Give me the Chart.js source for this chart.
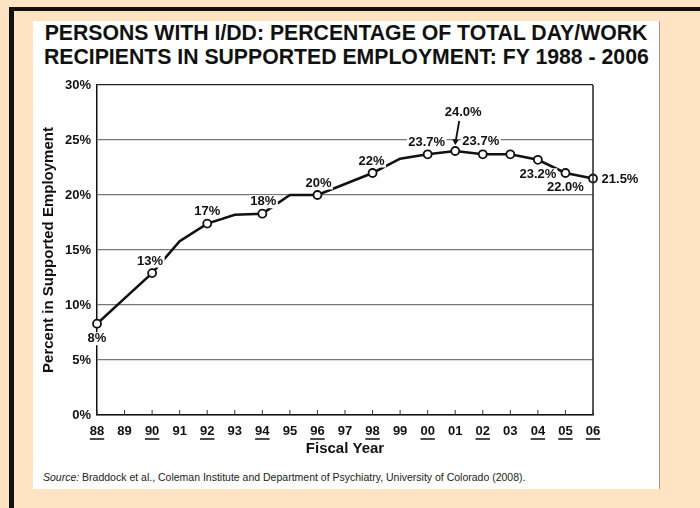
<!DOCTYPE html>
<html>
<head>
<meta charset="utf-8">
<script src="https://cdn.jsdelivr.net/npm/chart.js@4.4.1/dist/chart.umd.min.js"></script>
<style>
  body { margin: 0; width: 700px; height: 508px; background: #FFE4C4; position: relative; overflow: hidden; font-family: "Liberation Sans", Arial, sans-serif; }
  #frameLeft { position: absolute; left: 9px; top: 7px; width: 5px; height: 501px; background: #111; }
  #frameTop { position: absolute; left: 9px; top: 7px; width: 691px; height: 4px; background: #111; }
  #panel { position: absolute; left: 33px; top: 21px; width: 626px; height: 468px; background: #fff; border-right: 1px solid #999; }
  #title { position: absolute; left: 33px; top: 21px; width: 626px; text-align: center; font-weight: bold; font-size: 22px; line-height: 23.5px; color: #111; white-space: nowrap; transform: scaleX(0.965); transform-origin: 50% 0; }
  #source { position: absolute; left: 43px; top: 471px; font-size: 10.5px; color: #222; white-space: nowrap; }
  canvas { position: absolute; left: 0; top: 0; }
</style>
</head>
<body>
<div id="frameLeft"></div>
<div id="frameTop"></div>
<div id="panel"></div>
<div id="title">PERSONS WITH I/DD: PERCENTAGE OF TOTAL DAY/WORK<br>RECIPIENTS IN SUPPORTED EMPLOYMENT: FY 1988 - 2006</div>
<div id="source"><i>Source:</i> Braddock et al., Coleman Institute and Department of Psychiatry, University of Colorado (2008).</div>
<canvas id="chart" width="700" height="508"></canvas>
<script>
// Data
const years = ['88', '89', '90', '91', '92', '93', '94', '95', '96', '97', '98', '99', '00', '01', '02', '03', '04', '05', '06'];
const pctSupported = [8.3, 10.6, 12.9, 15.8, 17.4, 18.2, 18.3, 20.0, 20.0, 21.0, 22.0, 23.3, 23.7, 24.0, 23.7, 23.7, 23.2, 22.0, 21.5];
const pointLabels = ['8%', '', '13%', '', '17%', '', '18%', '', '20%', '', '22%', '', '23.7%', '24.0%', '23.7%', '', '23.2%', '22.0%', '21.5%'];
const markedYears = ['88', '90', '92', '94', '96', '98', '00', '01', '02', '03', '04', '05', '06'];
const underlinedYears = ['88', '90', '92', '94', '96', '98', '00', '02', '04', '05', '06'];
const yTicks = [0, 5, 10, 15, 20, 25, 30];

const FONT = '"Liberation Sans", Arial, sans-serif';

// where each value label sits relative to its point
const labelOffsets = {
    '88': [0, 15], '90': [-2, -12], '92': [0, -12], '94': [1, -12], '96': [1, -12],
    '98': [-1, -12], '00': [-1, -12], '01': [8, -39], '02': [-2, -13],
    '04': [0, 15], '05': [0, 14], '06': [27, 1]
};

// Extra drawing: value labels, arrow, inner x ticks, underlines, right frame
const decorations = {
    id: 'decorations',
    afterDraw(chart) {
        const ctx = chart.ctx;
        const area = chart.chartArea;
        const xs = chart.scales.x;
        ctx.save();

        // right frame line
        ctx.strokeStyle = '#222';
        ctx.lineWidth = 1.5;
        ctx.beginPath();
        ctx.moveTo(area.right, area.top);
        ctx.lineTo(area.right, area.bottom);
        ctx.stroke();

        // small inner ticks on the x axis
        ctx.lineWidth = 1;
        ctx.strokeStyle = '#333';
        years.forEach((y, i) => {
            const x = xs.getPixelForTick(i);
            ctx.beginPath();
            ctx.moveTo(x, area.bottom);
            ctx.lineTo(x, area.bottom - 5);
            ctx.stroke();
        });

        // underline some year labels
        ctx.font = 'bold 13px ' + FONT;
        ctx.lineWidth = 1.5;
        ctx.strokeStyle = '#111';
        years.forEach((y, i) => {
            if (!underlinedYears.includes(y)) return;
            const x = xs.getPixelForTick(i);
            const w = ctx.measureText(y).width;
            ctx.beginPath();
            ctx.moveTo(x - w / 2, area.bottom + 24);
            ctx.lineTo(x + w / 2, area.bottom + 24);
            ctx.stroke();
        });

        // value labels on a white patch (they break the grid lines)
        const meta = chart.getDatasetMeta(0);
        ctx.textBaseline = 'middle';
        ctx.textAlign = 'center';
        pointLabels.forEach((txt, i) => {
            if (!txt) return;
            const pt = meta.data[i];
            const off = labelOffsets[years[i]] || [0, -12];
            const w = ctx.measureText(txt).width;
            const cx = pt.x + off[0], cy = pt.y + off[1];
            ctx.fillStyle = '#fff';
            ctx.fillRect(cx - w / 2 - 1.5, cy - 6.5, w + 3, 13);
            ctx.fillStyle = '#111';
            ctx.fillText(txt, cx, cy);
        });

        // arrow to the 2001 peak
        const peak = meta.data[years.indexOf('01')];
        const ax = peak.x, ay = peak.y;
        ctx.lineWidth = 1.8;
        ctx.beginPath();
        ctx.moveTo(ax + 4, ay - 30);
        ctx.lineTo(ax + 0.5, ay - 10);
        ctx.stroke();
        ctx.beginPath();
        ctx.moveTo(ax, ay - 6);
        ctx.lineTo(ax - 3, ay - 12);
        ctx.lineTo(ax + 3.5, ay - 11);
        ctx.closePath();
        ctx.fill();

        // leader from the 2004 label
        const p04 = meta.data[years.indexOf('04')];
        ctx.lineWidth = 1.2;
        ctx.beginPath();
        ctx.moveTo(p04.x + 19, p04.y + 9);
        ctx.lineTo(p04.x + 25, p04.y + 12);
        ctx.stroke();

        ctx.restore();
    }
};

new Chart(document.getElementById('chart').getContext('2d'), {
    type: 'line',
    data: {
        labels: years,
        datasets: [{
            data: pctSupported,
            borderColor: '#111',
            borderWidth: 2.6,
            tension: 0,
            pointRadius: c => markedYears.includes(years[c.dataIndex]) ? 4 : 0,
            pointBackgroundColor: '#fff',
            pointBorderColor: '#111',
            pointBorderWidth: 1.8
        }]
    },
    options: {
        responsive: false,
        animation: false,
        layout: { padding: { left: 33, top: 85, right: 107, bottom: 43 } },
        plugins: { legend: { display: false }, tooltip: { enabled: false } },
        scales: {
            x: {
                offset: false,
                grid: { drawOnChartArea: false, drawTicks: false },
                border: { display: true, color: '#111', width: 1.5 },
                ticks: { color: '#111', font: { family: FONT, size: 13, weight: 'bold' }, padding: 9, maxRotation: 0, autoSkip: false },
                title: { display: true, text: 'Fiscal Year', color: '#111', font: { family: FONT, size: 15, weight: 'bold' }, padding: { top: 0, bottom: 7 } },
                afterFit: s => { s.height = 50; }
            },
            y: {
                min: 0,
                max: 30,
                afterBuildTicks: s => { s.ticks = yTicks.map(v => ({ value: v })); },
                grid: { color: c => c.tick && c.tick.value === 30 ? '#222' : '#777', lineWidth: 1.2, drawTicks: false },
                border: { display: true, color: '#111', width: 1.5 },
                ticks: { color: '#111', font: { family: FONT, size: 13, weight: 'bold' }, padding: 6, callback: v => v + '%' },
                title: { display: true, text: 'Percent in Supported Employment', color: '#111', font: { family: FONT, size: 15, weight: 'bold' }, padding: { top: 7, bottom: 0 } },
                afterFit: s => { s.width = 64; }
            }
        }
    },
    plugins: [decorations]
});
</script>
</body>
</html>
